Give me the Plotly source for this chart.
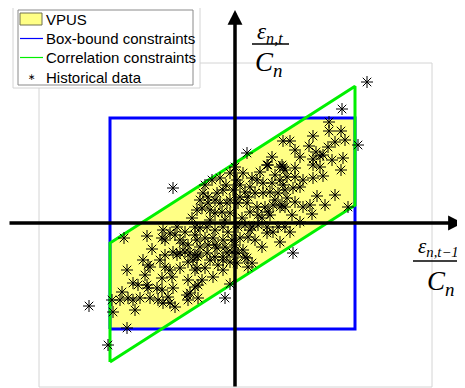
import plotly.graph_objects as go

# ---------------- data (normalised forecast errors, in % of C_n) ----------------
box_x = [-125, 120]          # box-bound constraint on eps_{n,t-1}/C_n
box_y = [-106, 105]          # box-bound constraint on eps_{n,t}/C_n
corr_slope = 0.64            # correlation constraint: y - slope*x in [lo, hi]
corr_lo = -59
corr_hi = 60

hist_x = [-146, -127, -108, -111, 132, 107, 123, 113, 58, -10, -5, 12, 48, 37, 47, 32, 0, -62,
          -88, -83, -72, -70, -73, -65, -58, -60, -55, -52, -47, -40, -38, -62, -58, -55, -50, -45,
          -40, -70, -75, -92, -87, -85, -70, -65, -55, -40, -108, -90, -73, -63, -47, -102, -97,
          -88, -87, -78, -73, -62, -113, -123, -115, -107, -102, -95, -85, -77, -72, -67, -65,
          -60, -48, -47, -122, -100, -37,
          33, 45, 50, 40, 37, 45, 28, 22, 15, 20, 28, 35, 43, 50, 13, 8, 10, 12, 22, 30, 38, 45, 50,
          5, 3, 2, -5, -12, -18, -27, -32, -35, -33, -27, -20, -15, -8, -5, -13, -25, -40, -35, -28,
          -20, -12, -7, 3, 10, 17, 23, 32, 38, 43, 50, 45, 32, 13, 5, -3, -12, -22, -30, -38, -35,
          -27, -18, -10, 8, -3, -37, -28, -20, -12, -25, 10, 17, -42,
          94, 94, 106, 78, 110, 74, 100, 93, 55, 60, 81, 88, 85, 65, 97, 108, 78, 78, 85, 60, 48,
          106, 88, 78, 68, 60, 52, 65, 58, 48, 82, 75, 68, 52, 60, 47,
          -38, -12, -8, 3, 12, 13, -12, -22, -33, -38, -40, -37, -45, 2,
          57, 65, 77, 55, 90, 100,
          -30, -23, -15, -9, -2, 5, 17, 25, -5, -20, 15, 23, 7, -10, -25, 27, 35, 20, 27, -17, -5,
          -30, -47, -50, -43, 40, 33, 15, 0, -20]
hist_y = [-83, -122, -105, -15, 141, 114, 78, 16, -30, -75, -61, 70, 82, 66, 58, 58, 56, 35,
          -13, -26, -7, -17, -15, -10, -4, -12, -17, -20, -22, -12, 13, -29, -32, -30, -29, -30,
          -32, -32, -37, -37, -42, -44, -44, -47, -45, -47, -47, -52, -55, -54, -57, -60, -62,
          -62, -65, -65, -67, -65, -69, -77, -77, -75, -77, -75, -75, -77, -80, -74, -80,
          -84, -72, -77, -89, -87, -75,
          58, 56, 53, 48, 40, 43, 40, 43, 36, 30, 30, 31, 30, 33, 26, 50, 31, 20, 16, 16, 18, 16, 16,
          26, 20, 43, 50, 33, 30, 26, 30, 23, 15, 20, 10, 20, 20, 10, 11, 13, -4, -5, -4,
          -7, -4, -9, -4, -2, -4, -2, -4, -9, -4, -4, -19, -10, -14, -15, -17, -17, -15, -15, -17, -24,
          -22, -25, -24, -27, -29, -32, -30, -34, -34, -37, -34, -40, -37,
          101, 92, 92, 87, 83, 77, 81, 76, 82, 73, 71, 68, 67, 66, 63, 65, 64, 58, 56, 55, 56,
          53, 47, 45, 43, 46, 46, 36, 35, 38, 27, 18, 16, 25, 21, 18,
          -34, -37, -30, -30, -35, -44, -47, -54, -57, -45, -64, -62, -70, -40,
          8, 1, 9, -9, 18, 28,
          38, 43, 45, 38, 33, 38, 45, 51, 23, 23, 11, 8, 5, 3, 3, 5, 8, -17, -24, -42, -39,
          -45, -39, -9, 5, 23, 11, -7, -22, -22]

legend_labels = ["VPUS", "Box-bound constraints", "Correlation constraints", "Historical data"]

# ---------------- geometry derived from the constraints ----------------
def line_y(x, c):
    return corr_slope * x + c

corr_x = [box_x[0], box_x[1], box_x[1], box_x[0], box_x[0]]
corr_y = [line_y(box_x[0], corr_lo), line_y(box_x[1], corr_lo),
          line_y(box_x[1], corr_hi), line_y(box_x[0], corr_hi), line_y(box_x[0], corr_lo)]

rect_x = [box_x[0], box_x[1], box_x[1], box_x[0], box_x[0]]
rect_y = [box_y[0], box_y[0], box_y[1], box_y[1], box_y[0]]


def clip(poly, inside, inter):
    out = []
    n = len(poly)
    for i in range(n):
        cur, prev = poly[i], poly[i - 1]
        if inside(cur):
            if not inside(prev):
                out.append(inter(prev, cur))
            out.append(cur)
        elif inside(prev):
            out.append(inter(prev, cur))
    return out


def make_inter(c):
    def f(p, q):
        g1 = p[1] - corr_slope * p[0] - c
        g2 = q[1] - corr_slope * q[0] - c
        t = g1 / (g1 - g2)
        return (p[0] + t * (q[0] - p[0]), p[1] + t * (q[1] - p[1]))
    return f


poly = [(box_x[0], box_y[0]), (box_x[1], box_y[0]), (box_x[1], box_y[1]), (box_x[0], box_y[1])]
poly = clip(poly, lambda p: p[1] - corr_slope * p[0] >= corr_lo, make_inter(corr_lo))
poly = clip(poly, lambda p: p[1] - corr_slope * p[0] <= corr_hi, make_inter(corr_hi))
vp_x = [p[0] for p in poly] + [poly[0][0]]
vp_y = [p[1] for p in poly] + [poly[0][1]]

# ---------------- figure ----------------
OFF = 8                     # page body margin
W, H = 465 - OFF, 388 - OFF
ORIG_X, ORIG_Y = 235, 223   # reference pixel position of the axes origin
X0, X1 = OFF - ORIG_X, 465 - ORIG_X
Y0, Y1 = ORIG_Y - 388, ORIG_Y - OFF

YELLOW = "#ffff85"
BLUE = "#0000ff"
GREEN = "#00f000"

fig = go.Figure()
fig.add_trace(go.Scatter(x=vp_x, y=vp_y, mode="lines", fill="toself", fillcolor=YELLOW,
                         line=dict(color=YELLOW, width=0.5), showlegend=False, hoverinfo="skip"))
fig.add_trace(go.Scatter(x=rect_x, y=rect_y, mode="lines", line=dict(color=BLUE, width=3),
                         showlegend=False, hoverinfo="skip"))
fig.add_trace(go.Scatter(x=corr_x, y=corr_y, mode="lines", line=dict(color=GREEN, width=3),
                         showlegend=False, hoverinfo="skip"))
fig.add_trace(go.Scatter(x=hist_x, y=hist_y, mode="markers",
                         marker=dict(symbol="asterisk-open", size=10, color="black",
                                     line=dict(color="black", width=1)),
                         showlegend=False))


def px(xp):
    return (xp - OFF) / W


def py(yp):
    return 1 - (yp - OFF) / H


shapes = []
# outer light frame
shapes.append(dict(type="rect", xref="paper", yref="paper", x0=px(39), x1=px(432), y0=py(387), y1=py(63),
                   line=dict(color="#d4d4d4", width=1), layer="below"))
# white legend background patch
shapes.append(dict(type="rect", xref="paper", yref="paper", x0=px(13), x1=px(200), y0=py(88), y1=py(-5),
                   line=dict(color="#d4d4d4", width=1), fillcolor="white", layer="below"))
# legend box
shapes.append(dict(type="rect", xref="paper", yref="paper", x0=px(18), x1=px(193), y0=py(85), y1=py(10),
                   line=dict(color="#8a8a8a", width=1), fillcolor="white", layer="below"))
# legend symbols
rows = [20, 38.5, 57.5, 77]
shapes.append(dict(type="rect", xref="paper", yref="paper", x0=px(20), x1=px(42), y0=py(25), y1=py(13),
                   line=dict(color="#707050", width=1), fillcolor=YELLOW))
shapes.append(dict(type="line", xref="paper", yref="paper", x0=px(20), x1=px(43), y0=py(rows[1]), y1=py(rows[1]),
                   line=dict(color=BLUE, width=1.2)))
shapes.append(dict(type="line", xref="paper", yref="paper", x0=px(20), x1=px(43), y0=py(rows[2]), y1=py(rows[2]),
                   line=dict(color=GREEN, width=1.2)))
# fraction bars of axis labels
shapes.append(dict(type="line", xref="paper", yref="paper", x0=px(252), x1=px(289), y0=py(44), y1=py(44),
                   line=dict(color="black", width=1.3)))
shapes.append(dict(type="line", xref="paper", yref="paper", x0=px(413), x1=px(463), y0=py(261), y1=py(261),
                   line=dict(color="black", width=1.3)))

ann = []
# axes with arrows
ann.append(dict(x=X1 - 2, y=0, xref="x", yref="y", ax=-(W - 2), ay=0, axref="pixel", ayref="pixel",
                showarrow=True, arrowhead=2, arrowsize=0.85, arrowwidth=3.5, arrowcolor="black", text=""))
ann.append(dict(x=0, y=Y1 - 2, xref="x", yref="y", ax=0, ay=H, axref="pixel", ayref="pixel",
                showarrow=True, arrowhead=2, arrowsize=0.85, arrowwidth=3.5, arrowcolor="black", text=""))
# legend texts
for r, lab in zip(rows, legend_labels):
    ann.append(dict(x=px(44), y=py(r), xref="paper", yref="paper", text=lab, showarrow=False,
                    xanchor="left", yanchor="middle",
                    font=dict(family="Liberation Sans, Arial", size=15, color="black")))
ann.append(dict(x=px(32), y=py(rows[3]), xref="paper", yref="paper", text="∗", showarrow=False,
                xanchor="center", yanchor="middle",
                font=dict(family="DejaVu Sans", size=9, color="black")))
# axis labels
serif = "Liberation Serif, Times New Roman"
ann.append(dict(x=px(270), y=py(33), xref="paper", yref="paper", text="<i>ε<sub>n,t</sub></i>",
                showarrow=False, xanchor="center", yanchor="middle", font=dict(family=serif, size=23, color="black")))
ann.append(dict(x=px(268), y=py(64), xref="paper", yref="paper", text="<i>C<sub>n</sub></i>",
                showarrow=False, xanchor="center", yanchor="middle", font=dict(family=serif, size=27, color="black")))
ann.append(dict(x=px(438), y=py(247), xref="paper", yref="paper", text="<i>ε<sub>n,t−1</sub></i>",
                showarrow=False, xanchor="center", yanchor="middle", font=dict(family=serif, size=21, color="black")))
ann.append(dict(x=px(440), y=py(283), xref="paper", yref="paper", text="<i>C<sub>n</sub></i>",
                showarrow=False, xanchor="center", yanchor="middle", font=dict(family=serif, size=27, color="black")))

fig.update_layout(
    width=W, height=H, margin=dict(l=0, r=0, t=0, b=0),
    paper_bgcolor="white", plot_bgcolor="white",
    xaxis=dict(range=[X0, X1], visible=False, fixedrange=True),
    yaxis=dict(range=[Y0, Y1], visible=False, fixedrange=True),
    shapes=shapes, annotations=ann, showlegend=False,
)

fig.write_html("out.html")
